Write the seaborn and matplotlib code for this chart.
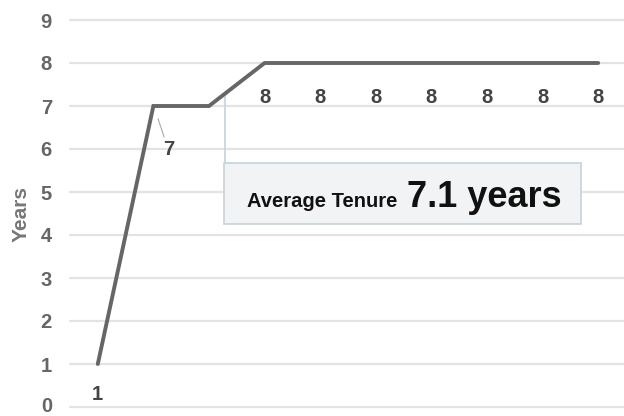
import matplotlib
matplotlib.use("Agg")
import matplotlib.pyplot as plt
import matplotlib.transforms as mtransforms
import seaborn as sns
import pandas as pd
from matplotlib.patches import Rectangle

# data
positions = list(range(10))
years = [1, 7, 7, 8, 8, 8, 8, 8, 8, 8]
labels = ["1", "7", "", "8", "8", "8", "8", "8", "8", "8"]
yticks = [0, 1, 2, 3, 4, 5, 6, 7, 8, 9]
avg_label = "Average Tenure"
avg_value = "7.1 years"

sns.set_style("white")
plt.rcParams['font.family'] = ['Liberation Sans', 'DejaVu Sans']

df = pd.DataFrame({"pos": positions, "years": years})

fig = plt.figure(figsize=(6.24, 4.16), dpi=100)
ax = fig.add_axes([70/624, 9/416, 556/624, 387/416])

ax.set_ylim(0, 9)
ax.set_xlim(-0.5, 9.5)
ax.set_yticks(yticks)
ax.set_yticklabels([str(t) for t in yticks], fontsize=14.5, fontweight='bold', color='#666666')
ax.set_xticks([])
ax.tick_params(axis='y', length=0, pad=13)
for t in yticks:
    ax.axhline(t, color='#e3e3e3', lw=1.6, zorder=0, clip_on=False)
for s in ax.spines.values():
    s.set_visible(False)

sns.lineplot(data=df, x="pos", y="years", ax=ax, color='#666666', lw=2.8, zorder=3,
             solid_joinstyle='miter', clip_on=False)
ax.set_xlabel("")
ax.set_ylabel("Years", fontsize=15, fontweight='bold', color='#777777', labelpad=7)

for x, y, lab in zip(positions, years, labels):
    if not lab:
        continue
    if lab == "7":
        ax.annotate(lab, xy=(x + 0.02, y - 0.05), xytext=(x + 0.27, y - 1.02),
                    ha='center', va='center', fontsize=14.5, fontweight='bold', color='#444444',
                    arrowprops=dict(arrowstyle='-', color='#aaaaaa', lw=0.8, shrinkA=0, shrinkB=8))
    else:
        ax.text(x, y - (0.72 if y == 1 else 0.8), lab, ha='center', va='center',
                fontsize=14.5, fontweight='bold', color='#444444')

# callout
ax.plot([2.29, 2.29], [7.3, 5.67], color='#c5d3dc', lw=1.2, zorder=2)
ax.add_patch(Rectangle((2.27, 4.26), 6.42, 1.41, facecolor='#f1f3f5', edgecolor='#c5d3dc',
                       lw=1.2, zorder=2))
ax.text(2.68, 4.65, avg_label, fontsize=14.5, fontweight='bold', color='#111111', va='baseline',
        ha='left', zorder=4)
ax.text(5.56, 4.65, avg_value, fontsize=26, fontweight='bold', color='#111111', va='baseline',
        ha='left', zorder=4)

# keep the bottom tick label inside the canvas
zero_lbl = ax.yaxis.get_major_ticks()[0].label1
zero_lbl.set_transform(zero_lbl.get_transform() +
                       mtransforms.ScaledTranslation(0, 3/100, fig.dpi_scale_trans))

fig.savefig("out.png", dpi=100)
